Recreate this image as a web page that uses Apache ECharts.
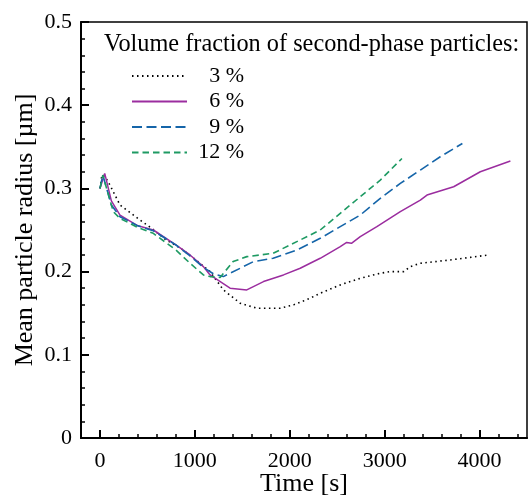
<!DOCTYPE html>
<html>
<head>
<meta charset="utf-8">
<script src="https://cdn.jsdelivr.net/npm/echarts@6/dist/echarts.min.js"></script>
<style>
html,body{margin:0;padding:0;background:#fff;}
#main{width:528px;height:499px;}
</style>
</head>
<body>
<div id="main"></div>
<script>
// series names
var names = ['3 %', '6 %', '9 %', '12 %'];

// 3 %
var time3 = [0, 20, 50, 105, 211, 422, 545, 686, 850, 1000, 1160, 1300, 1477, 1653, 1899, 2040, 2215, 2321, 2532, 2743, 2954, 3059, 3200, 3270, 3376, 3692, 4096];
var radius3 = [0.300, 0.316, 0.315, 0.304, 0.280, 0.262, 0.252, 0.239, 0.228, 0.215, 0.200, 0.178, 0.162, 0.156, 0.156, 0.160, 0.168, 0.174, 0.184, 0.192, 0.198, 0.200, 0.200, 0.206, 0.210, 0.214, 0.220];

// 6 %
var time6 = [0, 50, 120, 211, 400, 562, 800, 949, 1090, 1160, 1371, 1547, 1723, 1934, 2110, 2215, 2321, 2532, 2600, 2650, 2743, 2918, 3165, 3376, 3446, 3727, 4008, 4325];
var radius6 = [0.300, 0.318, 0.285, 0.268, 0.255, 0.250, 0.232, 0.220, 0.206, 0.196, 0.180, 0.178, 0.188, 0.196, 0.204, 0.210, 0.216, 0.230, 0.235, 0.234, 0.242, 0.254, 0.272, 0.286, 0.292, 0.302, 0.320, 0.333];

// 9 %
var time9 = [0, 30, 120, 211, 400, 562, 800, 949, 1090, 1200, 1300, 1477, 1617, 1825, 2075, 2215, 2321, 2532, 2743, 2954, 3165, 3376, 3586, 3819];
var radius9 = [0.300, 0.316, 0.280, 0.266, 0.255, 0.249, 0.232, 0.219, 0.205, 0.197, 0.194, 0.204, 0.212, 0.216, 0.226, 0.234, 0.240, 0.254, 0.268, 0.288, 0.306, 0.322, 0.338, 0.354];

// 12 %
var time12 = [0, 30, 140, 211, 400, 562, 800, 949, 1090, 1160, 1266, 1403, 1547, 1825, 2110, 2215, 2321, 2532, 2743, 2954, 3182];
var radius12 = [0.300, 0.316, 0.272, 0.264, 0.253, 0.246, 0.226, 0.210, 0.196, 0.194, 0.193, 0.212, 0.218, 0.222, 0.238, 0.244, 0.250, 0.270, 0.290, 0.310, 0.336];

// x axis ticks
var majorTicksX = [0, 1000, 2000, 3000, 4000];
var minorTicksX = [200, 400, 600, 800, 1200, 1400, 1600, 1800, 2200, 2400, 2600, 2800, 3200, 3400, 3600, 3800, 4200, 4400];

function pairs(t, r){
	var out = [];
	for(var i = 0; i < t.length; i++){
		out.push([t[i], r[i]]);
	}
	return out;
}

var FONT = '"Liberation Serif", "Times New Roman", serif';
var chart = echarts.init(document.getElementById('main'));

var xBase = {
	type: 'value',
	min: -200,
	max: 4500,
	position: 'bottom',
	splitLine: {show: false}
};

var option = {
	animation: false,
	backgroundColor: '#fff',
	textStyle: {fontFamily: FONT},
	grid: {
		left: 81, right: 1, top: 22, bottom: 61,
		show: true, borderColor: '#000', borderWidth: 1.5,
		outerBoundsMode: 'none'
	},
	title: {
		text: 'Volume fraction of second-phase particles:',
		left: 104, top: 33, padding: 0,
		textStyle: {fontFamily: FONT, fontSize: 24.3, fontWeight: 'normal', color: '#000'}
	},
	legend: {
		orient: 'vertical',
		left: 131, top: 65,
		padding: 0,
		itemWidth: 55, itemHeight: 14, itemGap: 3.5,
		itemStyle: {opacity: 0, borderWidth: 0},
		formatter: function(n){ return '{a|' + n + '}'; },
		textStyle: {
			fontFamily: FONT, fontSize: 22, color: '#000',
			rich: {a: {width: 52, align: 'right', fontFamily: FONT, fontSize: 22, color: '#000'}}
		}
	},
	xAxis: [
		Object.assign({}, xBase, {
			name: 'Time [s]',
			nameLocation: 'middle',
			nameGap: 33,
			nameMoveOverlap: false,
			nameTextStyle: {fontFamily: FONT, fontSize: 26, color: '#000'},
			axisLine: {onZero: false, lineStyle: {color: '#000', width: 2}},
			axisTick: {inside: true, length: 8, customValues: majorTicksX, lineStyle: {color: '#000', width: 2}},
			axisLabel: {customValues: majorTicksX, margin: 12, fontFamily: FONT, fontSize: 22, color: '#000',
				formatter: function(v){ return String(v); }}
		}),
		Object.assign({}, xBase, {
			axisLine: {show: false, onZero: false},
			axisTick: {inside: true, length: 4, customValues: minorTicksX, lineStyle: {color: '#000', width: 1.5}},
			axisLabel: {show: false}
		})
	],
	yAxis: {
		type: 'value',
		min: 0, max: 0.5, interval: 0.1,
		name: 'Mean particle radius [µm]',
		nameLocation: 'middle',
		nameGap: 43,
		nameMoveOverlap: false,
		nameTextStyle: {fontFamily: FONT, fontSize: 26, color: '#000'},
		splitLine: {show: false},
		axisLine: {show: true, onZero: false, lineStyle: {color: '#000', width: 2}},
		axisTick: {show: true, inside: true, length: 8, lineStyle: {color: '#000', width: 2}},
		minorTick: {show: true, splitNumber: 5, length: 4, lineStyle: {color: '#000', width: 1.5}},
		axisLabel: {margin: 9, fontFamily: FONT, fontSize: 22, color: '#000'}
	},
	series: [
		{name: names[0], type: 'line', showSymbol: false, symbol: 'none', data: pairs(time3, radius3),
			lineStyle: {color: '#000', width: 1.6, type: [1.5, 3.5]}, itemStyle: {color: '#000'}},
		{name: names[1], type: 'line', showSymbol: false, symbol: 'none', data: pairs(time6, radius6),
			lineStyle: {color: '#9b2d9f', width: 1.5, type: 'solid'}, itemStyle: {color: '#9b2d9f'}},
		{name: names[2], type: 'line', showSymbol: false, symbol: 'none', data: pairs(time9, radius9),
			lineStyle: {color: '#1565a9', width: 1.6, type: [10, 4.5]}, itemStyle: {color: '#1565a9'}},
		{name: names[3], type: 'line', showSymbol: false, symbol: 'none', data: pairs(time12, radius12),
			lineStyle: {color: '#1e9a63', width: 1.6, type: [6.5, 4]}, itemStyle: {color: '#1e9a63'}}
	]
};

chart.setOption(option);
</script>
</body>
</html>
